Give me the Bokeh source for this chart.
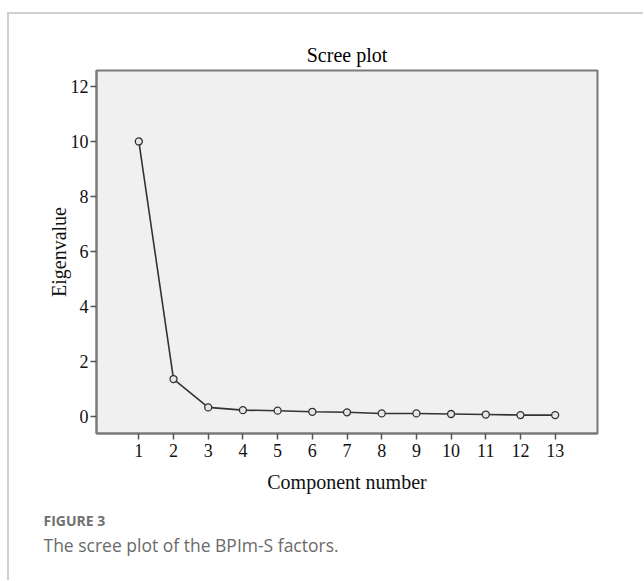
from bokeh.plotting import figure
from bokeh.models import Range1d, FixedTicker, Title
from bokeh.embed import file_html
from bokeh.resources import INLINE

components = [1, 2, 3, 4, 5, 6, 7, 8, 9, 10, 11, 12, 13]
eigenvalues = [10.0, 1.36, 0.33, 0.23, 0.21, 0.17, 0.15, 0.11, 0.11, 0.09, 0.07, 0.05, 0.05]
y_ticks = [0, 2, 4, 6, 8, 10, 12]
title_text = "Scree plot"
x_label = "Component number"
y_label = "Eigenvalue"
caption_head = "FIGURE 3"
caption_body = "The scree plot of the BPIm-S factors."

SERIF = "Liberation Serif"

p = figure(width=634, height=566, output_backend="svg", toolbar_location=None,
           x_range=Range1d(-0.22, 14.22), y_range=Range1d(-0.62, 12.58),
           min_border_left=87, min_border_top=56, min_border_right=46, min_border_bottom=147,
           frame_width=501, frame_height=363, title=title_text)
p.styles = {"border-top": "2px solid #cfcfcf", "border-left": "2px solid #cfcfcf",
            "margin-top": "12px", "margin-left": "7px"}

p.background_fill_color = "#f0f0f0"
p.border_fill_color = "white"
p.outline_line_color = "#7a7a7a"
p.outline_line_width = 2
p.grid.visible = False

p.title.align = "center"
p.title.text_font = SERIF
p.title.text_font_size = "20px"
p.title.text_font_style = "normal"
p.title.text_color = "black"
p.title.standoff = 10

p.xaxis.ticker = FixedTicker(ticks=components)
p.yaxis.ticker = FixedTicker(ticks=y_ticks)
for ax in (p.xaxis, p.yaxis):
    ax.axis_line_color = "#7a7a7a"
    ax.axis_line_width = 2
    ax.major_tick_line_color = "#555555"
    ax.major_tick_line_width = 1.5
    ax.major_tick_out = 6
    ax.major_tick_in = 0
    ax.minor_tick_line_color = None
    ax.major_label_text_font = SERIF
    ax.major_label_text_font_size = "18px"
    ax.major_label_text_color = "#111111"
    ax.axis_label_text_font = SERIF
    ax.axis_label_text_font_size = "20px"
    ax.axis_label_text_font_style = "normal"
    ax.axis_label_text_color = "#111111"
p.xaxis.axis_label = x_label
p.yaxis.axis_label = y_label
p.xaxis.major_label_standoff = 4
p.yaxis.major_label_standoff = 2
p.xaxis.axis_label_standoff = 11
p.yaxis.axis_label_standoff = -2

p.line(components, eigenvalues, line_color="#333333", line_width=1.6)
p.scatter(components, eigenvalues, marker="circle", size=7, fill_color="#e6e6e6",
          line_color="#333333", line_width=1.3)

p.add_layout(Title(text=caption_head, align="left", offset=-53, text_font="Open Sans",
                   text_font_size="14px", text_font_style="bold", text_color="#707070",
                   standoff=27), "below")
p.add_layout(Title(text=caption_body, align="left", offset=-53, text_font="Open Sans",
                   text_font_size="17.5px", text_font_style="normal", text_color="#6a6a6a",
                   standoff=-26), "below")

open("out.html", "w").write(file_html(p, INLINE))
